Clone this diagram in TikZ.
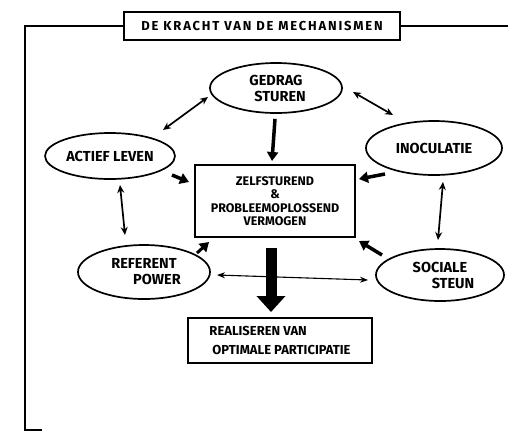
\documentclass[tikz,border=0pt]{standalone}
\usepackage{fontspec}
\setmainfont{Fira Sans}
\newfontfamily\titlefont[LetterSpace=14]{Fira Sans}
\usetikzlibrary{shapes.geometric,arrows.meta}
\begin{document}
\begin{tikzpicture}[x=1pt,y=-1pt,
  ell/.style={draw, ellipse, line width=1.7pt, inner sep=0pt, align=center, font=\bfseries\fontsize{14.5}{16}\selectfont},
  boxnode/.style={draw, rectangle, line width=2pt, inner sep=0pt, align=center},
  dbl/.style={line width=1.7pt, {Stealth[length=8pt,width=7pt]}-{Stealth[length=8pt,width=7pt]}},
  thinDbl/.style={line width=1.1pt, {Stealth[length=8pt,width=6pt]}-{Stealth[length=8pt,width=6pt]}},
  fatArrow/.style={line width=3.5pt, -{Triangle[length=9pt,width=11pt]}},
  frameline/.style={line width=2pt}
]
\useasboundingbox (0,0) rectangle (508,432);

% title and frame
\node[boxnode, minimum width=276pt, minimum height=28pt, font=\titlefont\bfseries\fontsize{13}{14}\selectfont] (title) at (262,26) {DE KRACHT VAN DE MECHANISMEN};
\coordinate (tl) at (25,26);
\coordinate (bl) at (25,430);
\coordinate (br) at (42,430);
\coordinate (tr) at (508,26);
\draw[frameline] (title.west) -- (tl) -- (bl) -- (br);
\draw[frameline] (title.east) -- (tr);

% ellipses
\node[ell, minimum width=132pt, minimum height=50pt] (gedrag) at (276,88) {GEDRAG\\\hspace*{8pt}STUREN};
\node[ell, minimum width=130pt, minimum height=46pt] (actief) at (110,156) {ACTIEF LEVEN};
\node[ell, minimum width=136pt, minimum height=54pt] (inoc) at (434,148) {INOCULATIE};
\node[ell, minimum width=132pt, minimum height=54pt] (referent) at (144,272) {REFERENT\\\hspace*{26pt}POWER};
\node[ell, minimum width=128pt, minimum height=52pt] (sociale) at (440,275) {SOCIALE\\\hspace*{26pt}STEUN};

% boxes
\node[boxnode, minimum width=160pt, minimum height=72pt, font=\bfseries\fontsize{12.5}{13.5}\selectfont] (central) at (275,201) {ZELFSTUREND\\\&\\PROBLEEMOPLOSSEND\\VERMOGEN};
\node[boxnode, minimum width=184pt, minimum height=45pt, align=left, font=\bfseries\fontsize{13}{19}\selectfont] (bottom) at (280,340.5) {REALISEREN VAN\\\hspace*{3pt}OPTIMALE PARTICIPATIE};

% connectors
\draw[dbl] ([shift={(53,-26)}]actief.center) -- ([shift={(-68,9)}]gedrag.center);
\draw[dbl] ([shift={(77,4)}]gedrag.center) -- ([shift={(-41,-33)}]inoc.center);
\draw[fatArrow] ([shift={(-1,5)}]gedrag.south) -- ([shift={(-3,-3)}]central.north);
\draw[fatArrow] ([shift={(62,19)}]actief.center) -- ([shift={(-5,18)}]central.north west);
\draw[fatArrow] ([shift={(-49,26)}]inoc.center) -- ([shift={(3,15)}]central.north east);
\draw[dbl] ([shift={(10,29)}]actief.center) -- ([shift={(-19,-37)}]referent.center);
\draw[dbl] ([shift={(9,34)}]inoc.center) -- ([shift={(-2,-35)}]sociale.center);
\draw[fatArrow, line width=3pt] ([shift={(53,-19)}]referent.center) -- ([shift={(15,4)}]central.south west);
\draw[fatArrow] ([shift={(-58,-20)}]sociale.center) -- ([shift={(3,3)}]central.south east);
\draw[thinDbl] ([shift={(73,3)}]referent.center) -- ([shift={(-72,5)}]sociale.center);
\draw[line width=11pt, -{Triangle[length=16pt,width=28pt]}] ([shift={(-4,10)}]central.south) -- ([shift={(-9,-5)}]bottom.north);
\end{tikzpicture}
\end{document}
